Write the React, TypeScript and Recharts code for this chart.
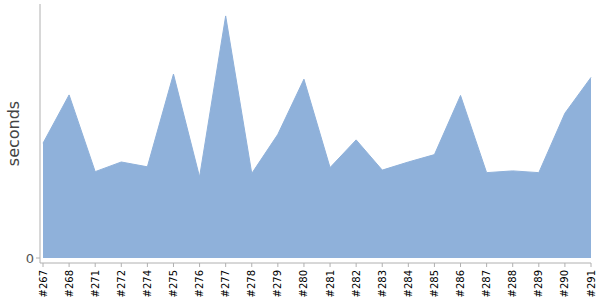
import React from 'react';
import { AreaChart, Area, XAxis, YAxis } from 'recharts';

const builds = ['#267','#268','#271','#272','#274','#275','#276','#277','#278','#279','#280','#281','#282','#283','#284','#285','#286','#287','#288','#289','#290','#291'];
const seconds = [45.2,64.2,34.0,37.8,35.9,72.4,31.9,95.3,33.3,48.7,70.4,35.6,46.5,34.6,37.8,40.7,64.0,33.6,34.3,33.6,57.0,71.1];
const yTicks = [0];

const data = builds.map((b, i) => ({ build: b, seconds: seconds[i] }));

const XTick = (props: any) => {
  const { x, y, payload } = props;
  return (
    <g transform={`translate(${x},${y})`}>
      <text transform="rotate(-90)" textAnchor="end" dy="0.35em" x={-1} y={0} fill="#000" fontSize={10} fontFamily="DejaVu Sans">
        {payload.value}
      </text>
    </g>
  );
};

export default function App() {
  return (
    <div style={{ position: 'absolute', left: 0, top: 0 }}>
      <AreaChart width={600} height={300} data={data} margin={{ top: 4, right: 9, left: 0, bottom: 0 }}>
        <XAxis dataKey="build" interval={0} tick={<XTick />} height={37} tickSize={4} tickMargin={2}
          stroke="#b0b0b0" padding={{ left: 3, right: 0 }} />
        <YAxis domain={[0, 100]} ticks={yTicks} width={40} padding={{ bottom: 5 }} stroke="#b0b0b0"
          tickSize={4} tick={{ fill: '#555', fontSize: 13, fontFamily: 'DejaVu Sans' }}
          label={{ value: 'seconds', angle: -90, position: 'center', dx: -7, fill: '#444', fontSize: 16, fontFamily: 'DejaVu Sans' }} />
        <Area type="linear" dataKey="seconds" fill="#8fb1da" fillOpacity={1} stroke="#8fb1da" strokeWidth={1} isAnimationActive={false} />
      </AreaChart>
    </div>
  );
}
